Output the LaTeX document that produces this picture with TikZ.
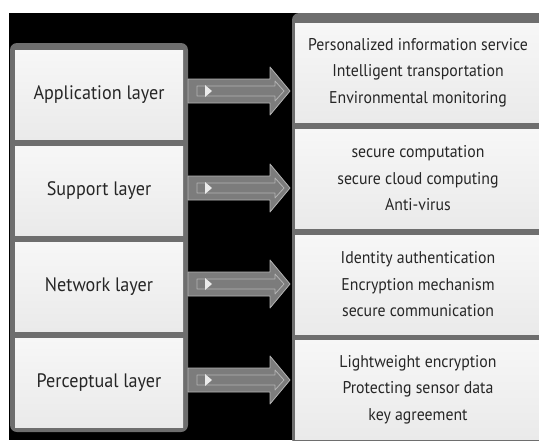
\documentclass[tikz,border=0pt]{standalone}
\usepackage{fontspec}
\setmainfont{PT Sans}[FakeStretch=0.93]
\usetikzlibrary{positioning,calc}
\definecolor{panelgray}{HTML}{6E6E6E}
\definecolor{arrowgray}{HTML}{7C7C7C}
\definecolor{arrowedge}{HTML}{B4B4B4}
\definecolor{boxtop}{HTML}{F7F7F7}
\definecolor{boxbottom}{HTML}{EAEAEA}
\definecolor{inktext}{HTML}{262626}
\tikzset{
  panel/.style={fill=panelgray,rounded corners=7pt},
  layerbox/.style={inner sep=0pt,minimum width=168pt,minimum height=89pt,
    top color=boxtop,bottom color=boxbottom,text=inktext,
    font=\fontsize{19.5}{23}\selectfont},
  itembox/.style={inner sep=0pt,minimum width=246pt,minimum height=99pt,
    top color=boxtop,bottom color=boxbottom,text=inktext,align=center,
    font=\fontsize{17}{26.5}\selectfont},
  blockarrow/.style={fill=arrowgray,draw=arrowedge,line width=0.8pt},
  innerarrow/.style={draw=arrowedge,line width=0.8pt}
}
\begin{document}
\begin{tikzpicture}[line cap=round,line join=round,x=1pt,y=-1pt]
\useasboundingbox (0,0) rectangle (539,440);
\fill[white] (0,0) rectangle (539,440);
\fill[black] (9,13) rectangle (539,440);

\begin{scope}
\clip (0,0) rectangle (539,440);
\fill[panel] (10,43) rectangle (188,432);
\fill[panel] (292,13) rectangle (560,446);
\end{scope}
\coordinate (lp) at (188,43);
\coordinate (rp) at (292,13);

\node[layerbox] (app) at (99,95) {Application layer};
\node[layerbox] (sup) at (99,191) {Support layer};
\node[layerbox] (net) at (99,286.5) {Network layer};
\node[layerbox] (per) at (99,382.5) {Perceptual layer};

\begin{scope}
\clip (0,0) rectangle (539,440);
\node[itembox] (appitems) at (418,72.5) {Personalized information service\\Intelligent transportation\\Environmental monitoring};
\node[itembox] (supitems) at (418,178.5) {secure computation\\secure cloud computing\\Anti-virus};
\node[itembox] (netitems) at (418,284.5) {Identity authentication\\Encryption mechanism\\secure communication};
\node[itembox] (peritems) at (418,389.5) {Lightweight encryption\\Protecting sensor data\\key agreement};
\end{scope}

\foreach \i/\y in {1/91,2/188,3/284,4/380} {
  \coordinate (t\i) at (lp |- 0,\y);
  \coordinate (h\i) at ($(rp |- 0,\y)+(-2,0)$);
  \draw[blockarrow] ($(t\i)+(0,-12)$) -- ($(h\i)+(-20,-12)$) -- ($(h\i)+(-20,-24)$) -- (h\i)
    -- ($(h\i)+(-20,24)$) -- ($(h\i)+(-20,12)$) -- ($(t\i)+(0,12)$) -- cycle;
  \draw[innerarrow] ($(t\i)+(9,-5)$) -- ($(h\i)+(-15,-5)$) -- ($(h\i)+(-15,-10)$) -- ($(h\i)+(-6,0)$)
    -- ($(h\i)+(-15,10)$) -- ($(h\i)+(-15,5)$) -- ($(t\i)+(9,5)$) -- cycle;
  \fill[white!92!black] ($(t\i)+(17,-6)$) -- ($(t\i)+(24,0)$) -- ($(t\i)+(17,6)$) -- cycle;
}
\end{tikzpicture}
\end{document}
